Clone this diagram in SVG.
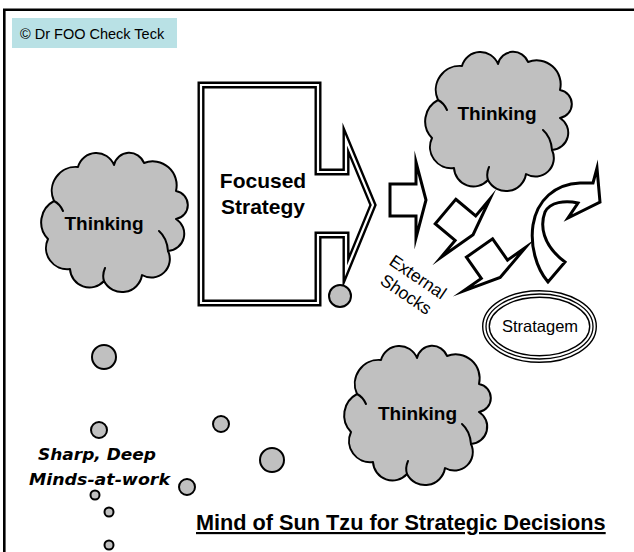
<svg xmlns="http://www.w3.org/2000/svg" xmlns:xlink="http://www.w3.org/1999/xlink" width="634" height="552" viewBox="0 0 634 552">
<style>
.cloud{fill:#c0c0c0;stroke:#000;stroke-width:2;stroke-linejoin:round}
.cloudIn{fill:none;stroke:#000;stroke-width:2;stroke-linecap:round}
.bub{fill:#c0c0c0;stroke:#000;stroke-width:2}
.blk{fill:#fff;stroke:#000;stroke-width:3;stroke-linejoin:miter;stroke-miterlimit:12}
.lbl{font-family:"Liberation Sans",Arial,sans-serif;font-weight:bold;fill:#000}
.reg{font-family:"Liberation Sans",Arial,sans-serif;fill:#000}
.hand{font-family:"DejaVu Sans",sans-serif;font-weight:bold;font-style:italic;fill:#000}
</style>
<defs>
<path id="cloudShape" d="M6,88 A24,24 0 0 1 12,50 A24,24 0 0 1 36,16 A19,19 0 0 1 72,14 A15.7,15.7 0 0 1 102,12 A24,24 0 0 1 134,40 A14.2,14.2 0 0 1 134,68 A17.3,17.3 0 0 1 126,100 A18.5,18.5 0 0 1 100,124 A20.2,20.2 0 0 1 62,130 A19.5,19.5 0 0 1 28,118 A21.2,21.2 0 0 1 6,88 Z"/>
<path id="cloudInner" d="M117,80 Q125,87 126,100 M62,130 Q60,124 63,117 M12,50 Q18,53 21,60"/>
<path id="smallArrow" d="M0,-16 H26 V-38 L36,0 L26,38 V16 H0 Z"/>
<path id="bigArrow" d="M201,85 H318 V172 H346 V140 L373,205 L346,271 V235 H318 V303 H201 Z"/>
</defs>
<rect width="634" height="552" fill="#fff"/>
<!-- frame -->
<path d="M4.3,552 V9.8 H634" fill="none" stroke="#000" stroke-width="2.6"/>
<!-- copyright -->
<g id="copyright">
<rect x="12" y="18" width="165" height="30" fill="#b9e1e5"/>
<text class="reg" x="20" y="38.5" font-size="14.5">© Dr FOO Check Teck</text>
</g>
<!-- Focused strategy arrow -->
<g id="focused-strategy">
<use xlink:href="#bigArrow" fill="#fff" stroke="#000" stroke-width="7" stroke-linejoin="miter" stroke-miterlimit="12"/>
<use xlink:href="#bigArrow" fill="none" stroke="#fff" stroke-width="2.2" stroke-linejoin="miter" stroke-miterlimit="12"/>
<text class="lbl" x="263" y="188" font-size="21" text-anchor="middle">Focused</text>
<text class="lbl" x="263" y="214" font-size="21" text-anchor="middle">Strategy</text>
</g>
<!-- clouds -->
<g id="cloud-top-right">
<use xlink:href="#cloudShape" class="cloud" transform="translate(426,50)"/>
<use xlink:href="#cloudInner" class="cloudIn" transform="translate(426,50)"/>
<text class="lbl" x="497" y="120" font-size="19" text-anchor="middle">Thinking</text>
</g>
<g id="cloud-left">
<use xlink:href="#cloudShape" class="cloud" transform="translate(42,151)"/>
<use xlink:href="#cloudInner" class="cloudIn" transform="translate(42,151)"/>
<text class="lbl" x="104" y="230" font-size="19" text-anchor="middle">Thinking</text>
</g>
<g id="cloud-bottom">
<use xlink:href="#cloudShape" class="cloud" transform="translate(345,344)"/>
<use xlink:href="#cloudInner" class="cloudIn" transform="translate(345,344)"/>
<text class="lbl" x="417.5" y="420" font-size="19" text-anchor="middle">Thinking</text>
</g>
<!-- external shocks arrows -->
<g id="shock-arrows">
<use xlink:href="#smallArrow" class="blk" transform="translate(390,200)"/>
<use xlink:href="#smallArrow" class="blk" transform="translate(445.5,211.5) rotate(40)"/>
<use xlink:href="#smallArrow" class="blk" transform="translate(479.5,248) rotate(55)"/>
</g>
<g id="external-shocks">
<g transform="translate(388,264) rotate(34)">
<text class="reg" x="32" y="0" font-size="17.5" text-anchor="middle">External</text>
<text class="reg" x="32" y="21" font-size="17.5" text-anchor="middle">Shocks</text>
</g>
</g>
<!-- curved arrow -->
<g id="curved-arrow">
<path class="blk" d="M548,282 C536,268 530,245 533,225 C537,200 555,184 580,183 L593,183 L597,168 L600,202 L568,218 L578,203 C565,200 550,202 545,212 C540,225 542,245 565,262 Z"/>
</g>
<!-- stratagem -->
<g id="stratagem">
<ellipse cx="539.5" cy="326.5" rx="53.5" ry="32.5" fill="#fff" stroke="#000" stroke-width="8"/>
<ellipse cx="539.5" cy="326.5" rx="53.5" ry="32.5" fill="none" stroke="#fff" stroke-width="5.2"/>
<ellipse cx="539.5" cy="326.5" rx="53.5" ry="32.5" fill="none" stroke="#000" stroke-width="1.3"/>
<text class="reg" x="540" y="332" font-size="16.5" text-anchor="middle">Stratagem</text>
</g>
<!-- bubbles -->
<g id="bubbles">
<circle class="bub" cx="340" cy="296" r="11"/>
<circle class="bub" cx="104" cy="357" r="12"/>
<circle class="bub" cx="99" cy="430" r="8"/>
<circle class="bub" cx="221" cy="424" r="8"/>
<circle class="bub" cx="272" cy="460" r="12"/>
<circle class="bub" cx="187" cy="487" r="8"/>
<circle class="bub" cx="95" cy="495" r="4.5"/>
<circle class="bub" cx="109" cy="512" r="4.5"/>
<circle class="bub" cx="109" cy="545" r="4.5"/>
</g>
<g id="minds-label">
<text class="hand" x="38" y="460" font-size="16" textLength="118" lengthAdjust="spacingAndGlyphs">Sharp, Deep</text>
<text class="hand" x="29" y="485" font-size="16" textLength="141" lengthAdjust="spacingAndGlyphs">Minds-at-work</text>
</g>
<g id="title">
<text class="lbl" x="196" y="530" font-size="21.7" text-decoration="underline">Mind of Sun Tzu for Strategic Decisions</text>
</g>
</svg>
